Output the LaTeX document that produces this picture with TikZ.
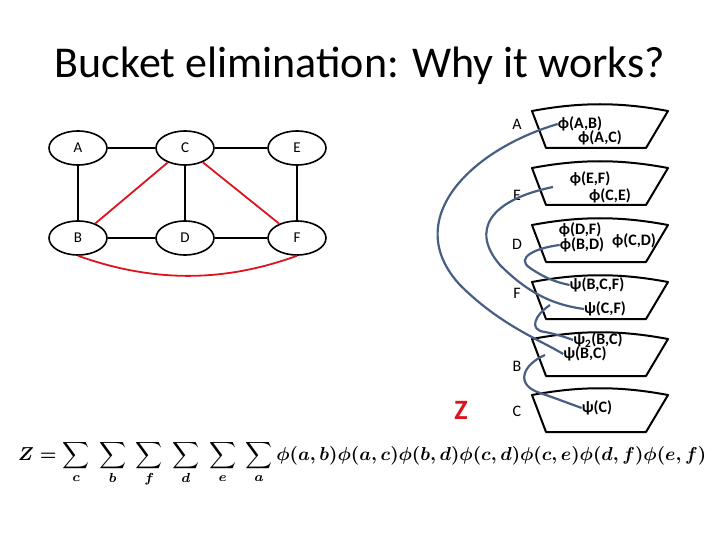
\documentclass[tikz,border=0pt]{standalone}
\usetikzlibrary{shapes.geometric}
\usepackage{fontspec}
\setmainfont{Carlito}
\usepackage{amsmath}
\begin{document}
\begin{tikzpicture}[x=1pt,y=-1pt,
  vert/.style={draw,line width=1.6pt,ellipse,minimum width=58pt,minimum height=34pt,inner sep=0pt,font=\fontsize{15}{15}\selectfont},
  edge/.style={line width=1.8pt},
  redge/.style={line width=1.8pt,draw={rgb,255:red,220;green,20;blue,30}},
  lab/.style={font=\fontsize{16}{16}\selectfont},
  ft/.style={font=\bfseries\fontsize{16}{16}\selectfont,inner sep=0pt},
  msg/.style={line width=2.2pt,draw={rgb,255:red,70;green,95;blue,130}}]
\useasboundingbox (0,0) rectangle (720,540);
\node[font=\fontsize{44}{44}\selectfont] (title) at (360,66) {Bucket elimination: Why it works?};
% graph
\node[vert] (A) at (78,148) {A};
\node[vert] (C) at (185,148) {C};
\node[vert] (E) at (297,148) {E};
\node[vert] (B) at (78,238) {B};
\node[vert] (D) at (185,238) {D};
\node[vert] (F) at (297,238) {F};
\draw[edge] (A)--(C); \draw[edge] (C)--(E); \draw[edge] (A)--(B);
\draw[edge] (C)--(D); \draw[edge] (E)--(F); \draw[edge] (B)--(D); \draw[edge] (D)--(F);
\draw[redge] (C)--(B); \draw[redge] (C)--(F);
\draw[redge] (B.south) .. controls (160,285) and (230,280) .. (F.south);
% buckets
\foreach \t/\n in {108/bA,165/bE,222/bD,279/bF,336/bB,392/bC}{
  \draw[line width=2pt,line join=round] (532,\t+3) .. controls (580,\t-6) and (620,\t-6) .. (668,\t+3) -- (646,\t+40) -- (546,\t+40) -- cycle;
}
\node[lab] (lA) at (517,124) {A};
\node[lab] (lE) at (517,195) {E};
\node[lab] (lD) at (517,244) {D};
\node[lab] (lF) at (517,293) {F};
\node[lab] (lB) at (517,366) {B};
\node[lab] (lC) at (517,411) {C};
\node[font=\bfseries\fontsize{28}{28}\selectfont,text={rgb,255:red,220;green,20;blue,30}] (Z) at (461,410) {Z};
\node[ft] (fAB) at (580,124) {ϕ(A,B)};
\node[ft] (fAC) at (600,138) {ϕ(A,C)};
\node[ft] (fEF) at (590,179) {ϕ(E,F)};
\node[ft] (fCE) at (610,196) {ϕ(C,E)};
\node[ft] (fDF) at (580,230) {ϕ(D,F)};
\node[ft] (fBD) at (582,245) {ϕ(B,D)};
\node[ft] (fCD) at (634,241) {ϕ(C,D)};
\node[ft] (pBCF) at (597,285) {ψ(B,C,F)};
\node[ft] (pCF) at (605,309) {ψ(C,F)};
\node[ft] (p2BC) at (598,340) {ψ\textsubscript{2}(B,C)};
\node[ft] (pBC) at (585,354) {ψ(B,C)};
\node[ft] (pC) at (597,408) {ψ(C)};
% messages
\draw[msg] (fAB.west) .. controls (470,150) and (400,220) .. (460,285) .. controls (500,325) and (540,340) .. (pBC.west);
\draw[msg] (553,187) .. controls (490,200) and (470,230) .. (500,265) .. controls (530,295) and (555,305) .. (pCF.west);
\draw[msg] (fBD.west) .. controls (535,248) and (515,258) .. (530,268) .. controls (545,278) and (555,282) .. (pBCF.west);
\draw[msg] (550,305) .. controls (535,315) and (528,330) .. (545,332) .. controls (555,334) and (562,336) .. (p2BC.west);
\draw[msg] (545,355) .. controls (522,365) and (515,385) .. (540,393) .. controls (555,398) and (565,402) .. (pC.west);
% formula
\node[anchor=west,inner sep=0pt] (formula) at (18,464) {\resizebox{688pt}{!}{$\boldsymbol{Z=\displaystyle\sum_c\;\sum_b\;\sum_f\;\sum_d\;\sum_e\;\sum_a\phi(a,b)\phi(a,c)\phi(b,d)\phi(c,d)\phi(c,e)\phi(d,f)\phi(e,f)}$}};
\end{tikzpicture}
\end{document}
